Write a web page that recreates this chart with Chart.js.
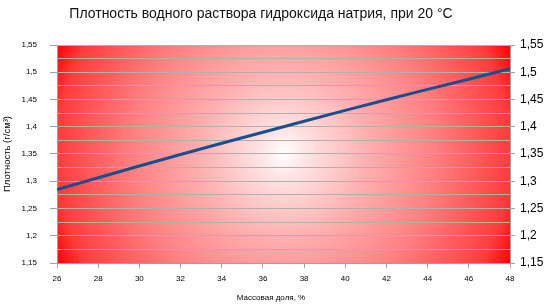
<!DOCTYPE html>
<html lang="ru">
<head>
    <meta charset="UTF-8">
    <title>Плотность NaOH</title>
    <script src="https://cdn.jsdelivr.net/npm/chart.js"></script>
    <style>
        html, body { margin: 0; padding: 0; background: #fff; }
        #wrap { width: 551px; height: 308px; }
    </style>
</head>
<body>
    <div id="wrap"><canvas id="densityChart"></canvas></div>

    <script>
        // массовая доля, %
        const massFraction = [26, 28, 30, 32, 34, 36, 38, 40, 42, 44, 46, 48];
        // плотность, г/см3
        const density = [1.2848, 1.3064, 1.3279, 1.3490, 1.3696, 1.3900, 1.4101, 1.4300, 1.4494, 1.4685, 1.4873, 1.5065];
        const yMin = 1.15, yMax = 1.55;

        const chartTitle = 'Плотность водного раствора гидроксида натрия, при 20 °C';
        const xTitle = 'Массовая доля, %';
        const yTitle = 'Плотность (г/см³)';

        const narrow = "'Liberation Sans Narrow', 'Liberation Sans', Arial, sans-serif";
        const regular = "'Liberation Sans', Arial, sans-serif";

        const fmt = v => String(Math.round(v * 100) / 100).replace('.', ',');
        const isMajor = v => Math.abs(Math.round(v * 20) - v * 20) < 1e-6;

        // радиальная заливка области графика
        const bgPlugin = {
            id: 'radialBg',
            beforeDraw(chart) {
                const { ctx, chartArea: a } = chart;
                const cx = (a.left + a.right) / 2, cy = (a.top + a.bottom) / 2;
                const r = Math.hypot(a.right - a.left, a.bottom - a.top) / 2;
                ctx.save();
                const g = ctx.createRadialGradient(cx, cy, 0, cx, cy, r);
                g.addColorStop(0, '#ffffff');
                g.addColorStop(0.1, '#ffe2e2');
                g.addColorStop(0.33, '#ffb0b0');
                g.addColorStop(0.6, '#ff8080');
                g.addColorStop(0.9, '#ff3c3c');
                g.addColorStop(1, '#ff0000');
                ctx.fillStyle = g;
                ctx.fillRect(a.left, a.top, a.right - a.left, a.bottom - a.top);
                ctx.restore();
            },
            afterDraw(chart) {
                const { ctx } = chart;
                ctx.save();
                ctx.fillStyle = '#111';
                ctx.textAlign = 'center';
                ctx.textBaseline = 'middle';
                ctx.font = '14px ' + regular;
                ctx.fillText(chartTitle, 261, 14);
                ctx.font = '8px ' + narrow;
                ctx.fillStyle = '#000';
                ctx.fillText(xTitle, 271, 298);
                ctx.restore();
            }
        };

        new Chart(document.getElementById('densityChart'), {
            type: 'line',
            data: {
                datasets: [{
                    label: 'Плотность',
                    data: massFraction.map((x, i) => ({ x: x, y: density[i] })),
                    borderColor: '#1a4f8f',
                    borderWidth: 3,
                    pointRadius: 0,
                    tension: 0,
                    yAxisID: 'y'
                }]
            },
            plugins: [bgPlugin],
            options: {
                responsive: true,
                maintainAspectRatio: false,
                animation: false,
                layout: { padding: { top: 45, left: 0, right: 0, bottom: 0 } },
                plugins: {
                    legend: { display: false },
                    tooltip: { enabled: false },
                    title: { display: false }
                },
                scales: {
                    x: {
                        type: 'linear',
                        min: 26,
                        max: 48,
                        ticks: { stepSize: 2, color: '#000', font: { family: narrow, size: 8 }, padding: 6 },
                        grid: { drawOnChartArea: false, tickLength: 5, tickColor: '#a0a0a0' },
                        border: { display: true, color: '#a0a0a0' },
                        afterFit: s => { s.height = 45; }
                    },
                    y: {
                        position: 'left',
                        min: yMin,
                        max: yMax,
                        ticks: {
                            stepSize: 0.025,
                            autoSkip: false,
                            color: '#000',
                            font: { family: narrow, size: 8 },
                            padding: 13,
                            callback: v => isMajor(v) ? fmt(v) : ''
                        },
                        grid: {
                            color: '#b0b0b0',
                            lineWidth: 1,
                            tickLength: 7,
                            tickColor: c => isMajor(c.tick.value) ? '#a0a0a0' : 'rgba(0,0,0,0)'
                        },
                        border: { display: true, color: '#a0a0a0' },
                        title: {
                            display: true,
                            text: yTitle,
                            color: '#000',
                            font: { family: regular, size: 9.5 },
                            padding: { top: 2, bottom: 0 }
                        },
                        afterFit: s => { s.width = 57; }
                    },
                    y2: {
                        position: 'right',
                        min: yMin,
                        max: yMax,
                        ticks: {
                            stepSize: 0.05,
                            color: '#000',
                            font: { family: regular, size: 12 },
                            padding: 5,
                            callback: v => fmt(v)
                        },
                        grid: { drawOnChartArea: false, tickLength: 5, tickColor: '#a0a0a0' },
                        border: { display: true, color: '#a0a0a0' },
                        afterFit: s => { s.width = 41; }
                    }
                }
            }
        });
    </script>
</body>
</html>
